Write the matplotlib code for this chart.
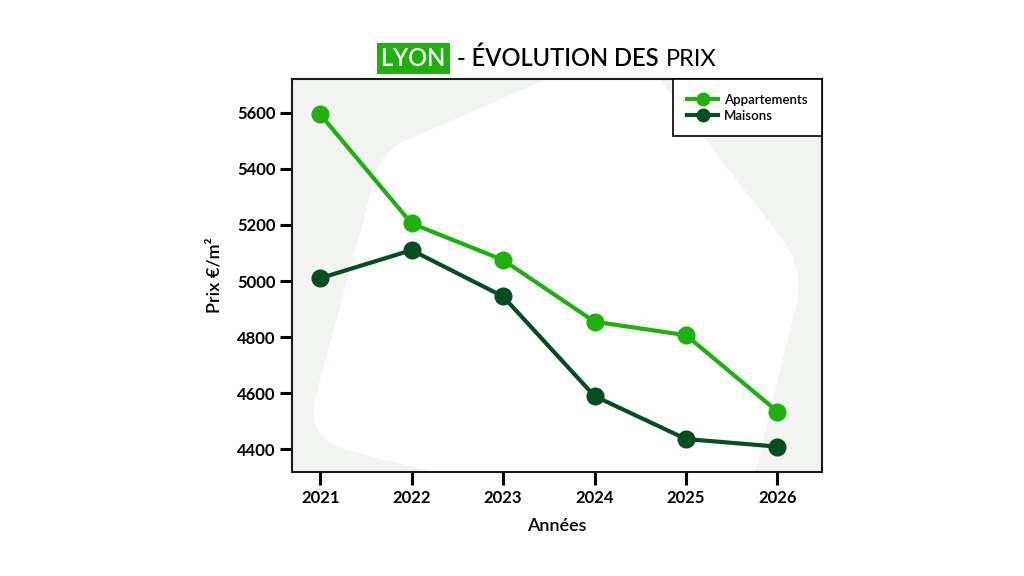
import numpy as np
import matplotlib.pyplot as plt
from matplotlib.path import Path
from matplotlib.patches import PathPatch

# data
years = [2021, 2022, 2023, 2024, 2025, 2026]
appartements = [5594, 5205, 5075, 4855, 4807, 4535]
maisons = [5010, 5110, 4945, 4590, 4437, 4410]
y_ticks = [4400, 4600, 4800, 5000, 5200, 5400, 5600]

light_green = "#1fb00f"
dark_green = "#064d1f"
bg_grey = "#f2f4f1"

plt.rcParams["font.family"] = ["Lato", "DejaVu Sans"]

fig = plt.figure(figsize=(10.24, 5.76), dpi=100)
ax = fig.add_axes([0.2852, 0.181, 0.5173, 0.681])
ax.set_facecolor(bg_grey)


# white rounded "tile" behind the lines (corners in figure pixels, y down)
def rounded_shape(corners, radii):
    verts, codes = [], []
    n = len(corners)
    for i in range(n):
        p0 = np.array(corners[i - 1], float)
        p1 = np.array(corners[i], float)
        p2 = np.array(corners[(i + 1) % n], float)
        a = p1 + (p0 - p1) / np.linalg.norm(p0 - p1) * radii[i]
        b = p1 + (p2 - p1) / np.linalg.norm(p2 - p1) * radii[i]
        verts += [a, p1, b]
        codes += [Path.LINETO, Path.CURVE3, Path.CURVE3]
    codes[0] = Path.MOVETO
    verts.append(verts[0])
    codes.append(Path.CLOSEPOLY)
    verts = np.array(verts)
    # pixels -> axes fraction
    fx = (verts[:, 0] - 292) / 529.7
    fy = (471.7 - verts[:, 1]) / 392.2
    return Path(np.column_stack([fx, fy]), codes)


tile = rounded_shape([(382, 151), (631, 42), (805, 269), (736, 550), (304, 439)],
                     [25, 30, 38, 30, 46])
ax.add_patch(PathPatch(tile, facecolor="white", edgecolor="none",
                       transform=ax.transAxes, zorder=0))

ax.plot(years, appartements, "-o", color=light_green, lw=3, ms=12,
        label="Appartements", zorder=3)
ax.plot(years, maisons, "-o", color=dark_green, lw=3, ms=12,
        label="Maisons", zorder=3)

ax.set_xlim(2020.693, 2026.484)
ax.set_ylim(4320.5, 5718)
ax.set_xticks(years)
ax.set_yticks(y_ticks)

for side in ["left", "bottom", "top", "right"]:
    ax.spines[side].set_linewidth(1.5)
    ax.spines[side].set_color("#1a1a1a")

ax.tick_params(axis="both", direction="out", length=9, width=2.2, color="black",
               labelsize=12)
ax.tick_params(axis="y", pad=3)
ax.tick_params(axis="x", pad=4)
for lab in ax.get_xticklabels() + ax.get_yticklabels():
    lab.set_fontweight("bold")

ax.set_xlabel("Années", fontsize=13, fontweight="semibold", labelpad=9)
ax.set_ylabel("Prix €/m²", fontsize=13, fontweight="semibold", labelpad=10)

leg = ax.legend(loc="upper right", borderaxespad=0,
                prop={"size": 9.5, "weight": "semibold"},
                handlelength=2.3, handletextpad=0.45, markerscale=0.75,
                fancybox=False, framealpha=1, borderpad=1.1, labelspacing=0.3)
leg.get_frame().set_edgecolor("black")
leg.get_frame().set_linewidth(1.2)

# title in three pieces, on a shared baseline
ty = 1 - 66 / 576
fig.text(381 / 1024, ty, "LYON", color="white", fontsize=17, fontweight="semibold",
         va="baseline", ha="left",
         bbox=dict(facecolor=light_green, edgecolor="none", pad=3))
fig.text(457 / 1024, ty, "- ÉVOLUTION DES", color="black", fontsize=17,
         fontweight="semibold", va="baseline", ha="left")
fig.text(666 / 1024, ty, "PRIX", color="black", fontsize=17, fontweight="normal",
         va="baseline", ha="left")

fig.savefig("out.png", dpi=100, facecolor="white")
